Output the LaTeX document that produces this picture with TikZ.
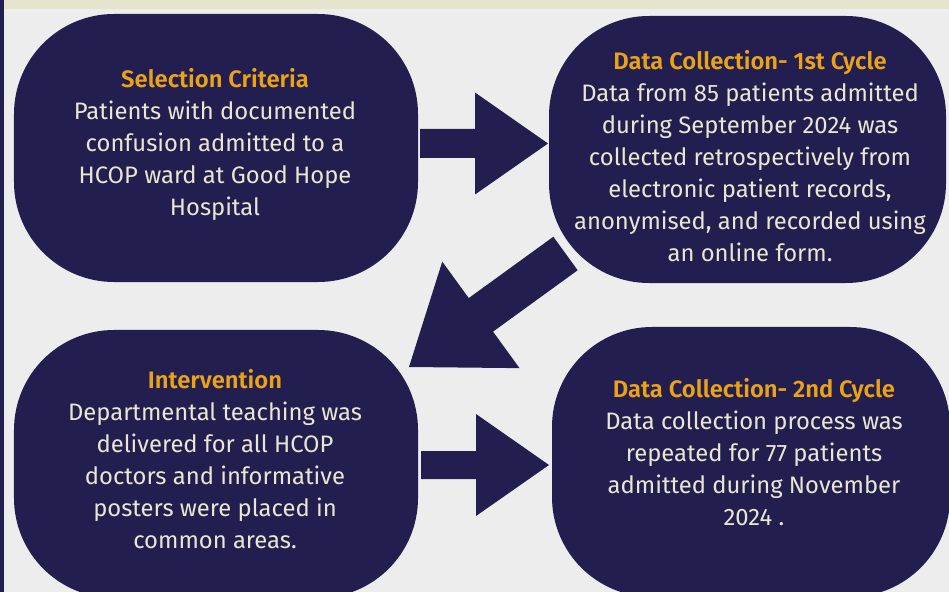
\documentclass[tikz,border=0pt]{standalone}
\usepackage{fontspec}
\setmainfont{Fira Sans}[BoldFont={Fira Sans SemiBold}]
\usepackage{tikz}
\usetikzlibrary{calc}

\definecolor{navy}{HTML}{221F50}
\definecolor{paper}{HTML}{EDEDED}
\definecolor{band}{HTML}{E7E4CE}
\definecolor{gold}{HTML}{EBA315}
\definecolor{cream}{HTML}{EAE6D2}

% block arrow: from, to, half shaft, head length, half head
\newcommand\blockarrow[5]{%
  \coordinate (h) at ($(#2)!#4!(#1)$);
  \fill[navy] ($(#1)!#3!90:(#2)$) -- ($(h)!#3!90:(#2)$)
    -- ($(h)!#5!90:(#2)$) -- (#2) -- ($(h)!#5!-90:(#2)$)
    -- ($(h)!#3!-90:(#2)$) -- ($(#1)!#3!-90:(#2)$) -- cycle;}

\tikzset{
  stage/.style={fill=navy, rounded corners=100bp, inner sep=0pt},
  stagetext/.style={text=cream, align=center, inner sep=0pt,
    font=\fontsize{23.8bp}{32bp}\selectfont},
}
\newcommand\heading[1]{\textcolor{gold}{\bfseries #1}}

\begin{document}
\begin{tikzpicture}[x=1bp, y=-1bp]
  \useasboundingbox (0,0) rectangle (949,592);
  \fill[paper] (0,0) rectangle (949,592);
  \fill[band] (0,0) rectangle (949,9);
  \fill[navy] (0,0) rectangle (3.5,592);

  % the four stages
  \node[stage, minimum width=404bp, minimum height=268bp] (sel) at (216,148) {};
  \node[stage, minimum width=397bp, minimum height=267bp] (dc1) at (747.5,149.5) {};
  \node[stage, minimum width=404bp, minimum height=268bp] (intv) at (216,464) {};
  \node[stage, minimum width=398bp, minimum height=270bp] (dc2) at (751,462) {};

  \node[stagetext] (sel-txt) at (215,144) {\heading{Selection Criteria}\\
    Patients with documented\\ confusion admitted to a\\
    HCOP ward at Good Hope\\ Hospital};
  \node[stagetext] (dc1-txt) at (750,156.5) {\heading{Data Collection- 1st Cycle}\\
    Data from 85 patients admitted\\ during September 2024 was\\
    collected retrospectively from\\ electronic patient records,\\
    anonymised, and recorded using\\ an online form.};
  \node[stagetext] (intv-txt) at (215,459.5) {\heading{Intervention}\\
    Departmental teaching was\\ delivered for all HCOP\\
    doctors and informative\\ posters were placed in\\ common areas.};
  \node[stagetext] (dc2-txt) at (754,452.5) {\heading{Data Collection- 2nd Cycle}\\
    Data collection process was\\ repeated for 77 patients\\
    admitted during November\\ 2024 .};

  % arrows between stages
  \coordinate (a1s) at (420,143.5);
  \coordinate (a1e) at (548,143.5);
  \coordinate (a2s) at (565.5,253.5);
  \coordinate (a2e) at (409,367);
  \coordinate (a3s) at (421,465);
  \coordinate (a3e) at (549,465);
  \blockarrow{a1s}{a1e}{14.5bp}{73bp}{51bp}
  \blockarrow{a2s}{a2e}{20.7bp}{88.8bp}{65.8bp}
  \blockarrow{a3s}{a3e}{14bp}{73bp}{51bp}
\end{tikzpicture}
\end{document}
